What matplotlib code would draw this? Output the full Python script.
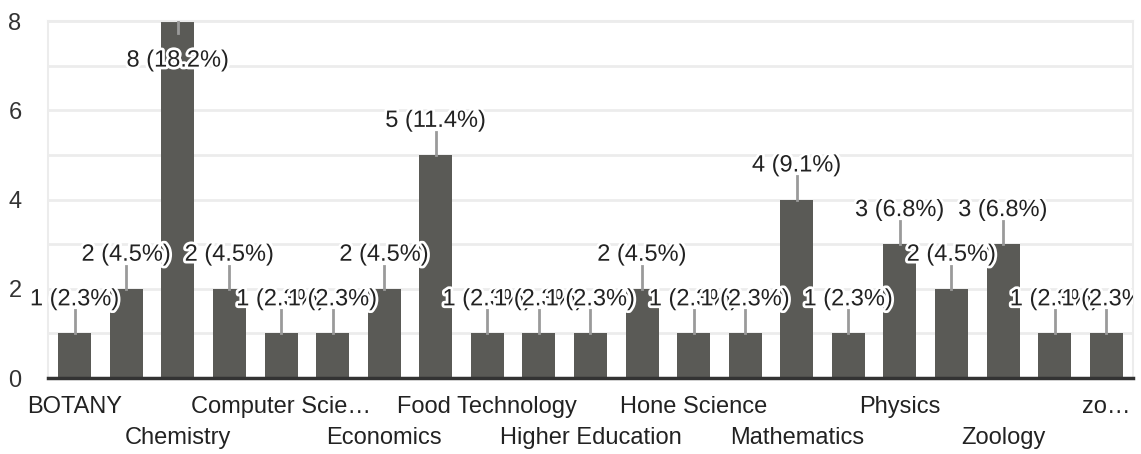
import matplotlib.pyplot as plt
import matplotlib.patheffects as pe
from matplotlib.patches import Rectangle
from matplotlib.ticker import MultipleLocator

plt.rcParams['font.family'] = ['Liberation Sans', 'DejaVu Sans']

# valori (21 de bare, total 44 de raspunsuri)
values = [1, 2, 8, 2, 1, 1, 2, 5, 1, 1, 1, 2, 1, 1, 4, 1, 3, 2, 3, 1, 1]
# doar etichetele vizibile (cele impare sunt ascunse in original)
labels = ["BOTANY", "", "Chemistry", "", "Computer Scie…", "", "Economics", "",
          "Food Technology", "", "Higher Education", "", "Hone Science", "",
          "Mathematics", "", "Physics", "", "Zoology", "", "zo…"]
y_ticks = [0, 2, 4, 6, 8]

total = sum(values)
x = list(range(len(values)))

fig = plt.figure(figsize=(11.41, 4.54), dpi=100)
ax = fig.add_axes([0.042, 0.1674, 0.951, 0.7863])

ax.bar(x, values, width=0.64, color='#5a5a56', zorder=2)

ax.set_xlim(-0.52, len(values) - 0.48)
ax.set_ylim(0, max(y_ticks))
ax.set_yticks(y_ticks)
ax.yaxis.set_minor_locator(MultipleLocator(1))
ax.grid(axis='y', which='both', color='#ececec', linewidth=2, zorder=0)
ax.tick_params(axis='y', which='both', length=0, pad=19, labelsize=17, labelcolor='#333333')
ax.set_xticks([])

for side in ['left', 'right', 'top']:
    ax.spines[side].set_color('#ececec')
    ax.spines[side].set_linewidth(1.5)
ax.spines['bottom'].set_color('#333333')
ax.spines['bottom'].set_linewidth(2.5)
ax.spines['bottom'].set_zorder(3)

# etichetele axei x pe doua randuri
for i, lab in enumerate(labels):
    if not lab:
        continue
    off = -21 if (i // 2) % 2 == 0 else -43
    ax.annotate(lab, xy=(i, 0), xycoords=('data', 'axes fraction'),
                xytext=(0, off), textcoords='offset points',
                ha='center', va='center', fontsize=17, color='#222222')

# etichetele sunt taiate doar la marginea din dreapta a graficului
clip_rect = Rectangle((-0.1, -0.5), 1.1, 2.0, transform=ax.transAxes,
                      fill=False, visible=False)

# etichete valoare + linie de legatura
stroke = [pe.withStroke(linewidth=4, foreground='white')]
vmax = max(values)
for i, v in enumerate(values):
    txt = f"{v} ({v / total * 100:.1f}%)"
    if v == vmax:
        ax.plot([i, i], [v, v - 0.27], color='#9a9a9a', lw=2, zorder=3)
        t = ax.annotate(txt, xy=(i, v), xytext=(0, -28.5), textcoords='offset points',
                        ha='center', va='center', fontsize=17, color='#222222',
                        path_effects=stroke, zorder=4)
    else:
        ax.plot([i, i], [v, v + 0.52], color='#9a9a9a', lw=2, zorder=3)
        t = ax.annotate(txt, xy=(i, v), xytext=(0, 24.5), textcoords='offset points',
                        ha='center', va='center', fontsize=17, color='#222222',
                        path_effects=stroke, zorder=4)
    t.set_clip_on(True)
    t.set_clip_path(clip_rect)

fig.savefig('out.png', dpi=100)
